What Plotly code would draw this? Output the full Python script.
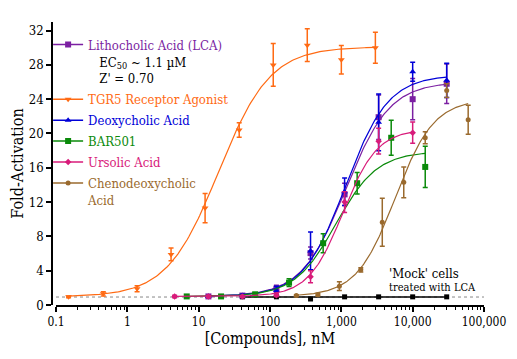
import numpy as np
import plotly.graph_objects as go

# ---- data ----
tgr5_conc = [0.15, 0.46, 1.37, 4.1, 12.3, 37, 111, 333, 1000, 3000]
tgr5_val = [0.95, 1.3, 1.9, 5.9, 11.3, 20.4, 28.0, 30.3, 28.6, 30.0]
tgr5_err = [0.1, 0.25, 0.35, 0.75, 1.7, 0.85, 2.5, 1.9, 1.65, 1.8]

lca_conc = [13.7, 41, 123, 370, 1111, 3333, 10000, 30000]
lca_val = [1.0, 1.1, 1.9, 6.05, 12.9, 21.9, 24.0, 25.8]
lca_err = [0.15, 0.2, 0.4, 0.7, 1.3, 2.6, 2.4, 2.3]

dca_conc = [13.7, 41, 123, 370, 1111, 3333, 10000, 30000]
dca_val = [1.0, 1.1, 1.7, 6.3, 13.2, 21.3, 27.2, 26.2]
dca_err = [0.1, 0.15, 0.5, 2.2, 1.6, 3.3, 1.1, 2.0]

bar_conc = [6.8, 20.6, 62, 185, 556, 1667, 5000, 15000]
bar_val = [1.0, 1.0, 1.25, 2.6, 7.2, 14.2, 19.5, 16.1]
bar_err = [0.1, 0.1, 0.15, 0.45, 1.1, 1.25, 2.05, 2.4]

ua_conc = [4.6, 13.7, 41, 123, 370, 1111, 3333, 10000]
ua_val = [1.0, 1.0, 1.0, 1.15, 3.3, 12.0, 19.1, 20.1]
ua_err = [0.15, 0.15, 0.1, 0.15, 0.7, 1.2, 1.5, 1.25]

cdca_conc = [234, 469, 938, 1875, 3750, 7500, 15000, 30000, 60000]
cdca_val = [1.1, 1.2, 2.2, 4.1, 9.65, 14.3, 19.5, 25.0, 21.6]
cdca_err = [0.1, 0.15, 0.5, 0.25, 2.8, 1.8, 0.7, 0.8, 1.7]

mock_conc = [41, 123, 370, 1111, 3333, 10000, 30000]
mock_val = [0.95, 0.95, 0.7, 0.95, 0.95, 0.95, 0.95]
mock_err = [0.05, 0.05, 0.05, 0.05, 0.05, 0.05, 0.05]

# 4-parameter logistic fit parameters: bottom, top, EC50 (nM), Hill slope
fit_tgr5 = [0.95, 30.1, 19, 1.2]
fit_lca = [1.0, 26.0, 1150, 1.4]
fit_dca = [1.0, 26.8, 1150, 1.45]
fit_bar = [1.0, 17.9, 840, 1.5]
fit_ua = [1.0, 20.5, 1050, 1.8]
fit_cdca = [1.0, 24.0, 5700, 1.6]
fit_mock = [0.93, 0.93, 1000, 1.0]

x_ticks = [0.1, 1, 10, 100, 1000, 10000, 100000]
x_tick_labels = ["0.1", "1", "10", "100", "1,000", "10,000", "100,000"]
y_ticks = [0, 4, 8, 12, 16, 20, 24, 28, 32]
baseline = 0.93

FONT = "DejaVu Serif Condensed, DejaVu Serif"


def fourpl(x, p):
    b, t, ec, h = p
    return b + (t - b) / (1 + (ec / x) ** h)


series = [
    ("Lithocholic Acid (LCA)<br><span style='color:black'>   EC<sub>50</sub> ~ 1.1 µM</span>"
     "<br><span style='color:black'>   Z' = 0.70</span>",
     lca_conc, lca_val, lca_err, fit_lca, "#7B1FA2", "square", 6),
    ("TGR5 Receptor Agonist", tgr5_conc, tgr5_val, tgr5_err, fit_tgr5, "#FF6A13", "triangle-down", 6),
    ("Deoxycholic Acid", dca_conc, dca_val, dca_err, fit_dca, "#0000D8", "triangle-up", 6),
    ("BAR501", bar_conc, bar_val, bar_err, fit_bar, "#0A8A0A", "square", 6),
    ("Ursolic Acid", ua_conc, ua_val, ua_err, fit_ua, "#D81B7A", "diamond", 5),
    ("Chenodeoxycholic<br>Acid", cdca_conc, cdca_val, cdca_err, fit_cdca, "#9A6A2E", "circle", 5),
]

fig = go.Figure()

# dotted baseline
fig.add_trace(go.Scatter(x=[0.1, 100000], y=[baseline, baseline], mode="lines",
                         line=dict(color="#888888", width=1, dash="dot"),
                         showlegend=False, hoverinfo="skip"))

# mock cells
xm = np.logspace(np.log10(min(mock_conc)), np.log10(max(mock_conc)), 100)
fig.add_trace(go.Scatter(x=xm, y=fourpl(xm, fit_mock), mode="lines",
                         line=dict(color="black", width=1.3), showlegend=False))
fig.add_trace(go.Scatter(x=mock_conc, y=mock_val, mode="markers",
                         marker=dict(color="black", symbol="square", size=5),
                         error_y=dict(type="data", array=mock_err, color="black", thickness=1, width=2),
                         showlegend=False))

for i, (name, xc, yv, ye, p, col, sym, ms) in enumerate(series):
    xs = np.logspace(np.log10(min(xc)), np.log10(max(xc)), 200)
    fig.add_trace(go.Scatter(x=xs, y=fourpl(xs, p), mode="lines",
                             line=dict(color=col, width=1.2), showlegend=False,
                             hoverinfo="skip"))
    fig.add_trace(go.Scatter(x=xc, y=yv, mode="markers",
                             marker=dict(color=col, symbol=sym, size=ms),
                             error_y=dict(type="data", array=ye, color=col, thickness=1.5, width=2.5),
                             showlegend=False))
    # legend entry
    fig.add_trace(go.Scatter(x=[None], y=[None], mode="lines+markers",
                             name=f"<span style='color:{col}'>{name}</span>",
                             legendgroup=f"g{i}",
                             line=dict(color=col, width=1.5),
                             marker=dict(color=col, symbol=sym, size=ms)))

fig.add_annotation(x=0.775, y=0.11, xref="paper", yref="paper", xanchor="left", yanchor="middle",
                   text="'Mock' cells", showarrow=False, font=dict(family=FONT, size=13, color="black"))
fig.add_annotation(x=0.775, y=0.062, xref="paper", yref="paper", xanchor="left", yanchor="middle",
                   text="treated with LCA", showarrow=False, font=dict(family=FONT, size=11, color="black"))

# page has an 8px body margin: shrink figure so the plot lands where the reference has it
fig.update_layout(
    width=509, height=351,
    margin=dict(l=44, r=33, t=14, b=54, autoexpand=False),
    plot_bgcolor="white", paper_bgcolor="white",
    font=dict(family=FONT, size=12, color="black"),
    legend=dict(x=-0.009, y=0.973, xanchor="left", yanchor="top", bgcolor="rgba(0,0,0,0)",
                font=dict(family=FONT, size=13), valign="top", traceorder="grouped",
                tracegroupgap=1, itemwidth=30),
    xaxis=dict(type="log", range=[-1.0, 5.0], domain=[4 / 431, 1], automargin=False,
               tickvals=x_ticks, ticktext=x_tick_labels,
               showgrid=False, zeroline=False, showline=True, linecolor="black", linewidth=1.5,
               ticks="outside", ticklen=5, tickwidth=1.5, tickcolor="black",
               tickfont=dict(family=FONT, size=12),
               minor=dict(ticks="outside", ticklen=3, tickwidth=1, tickcolor="black", dtick="D1",
                          showgrid=False),
               title=dict(text="[Compounds], nM", font=dict(family=FONT, size=16), standoff=2)),
    yaxis=dict(range=[0, 33], anchor="free", position=0, tickvals=y_ticks, automargin=False,
               showgrid=False, zeroline=False, showline=True, linecolor="black", linewidth=1.5,
               ticks="outside", ticklen=5, tickwidth=1.5, tickcolor="black",
               tickfont=dict(family=FONT, size=13),
               title=dict(text="Fold-Activation", font=dict(family=FONT, size=16), standoff=3)),
)

fig.write_html("out.html")
